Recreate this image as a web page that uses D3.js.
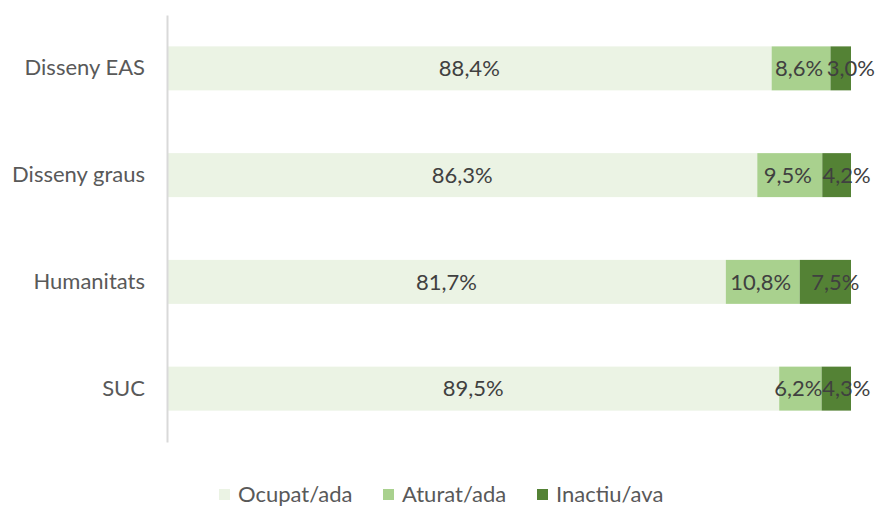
<!DOCTYPE html>
<html><head><meta charset="utf-8">
<script src="https://cdn.jsdelivr.net/npm/d3@7"></script>
<style>body{margin:0;background:#fff;} svg{display:block;font-family:Lato, "Open Sans", sans-serif;}</style>
</head><body>
<svg id="c" width="875" height="506"></svg>
<script>
const categories = ["Disseny EAS", "Disseny graus", "Humanitats", "SUC"];
const seriesNames = ["Ocupat/ada", "Aturat/ada", "Inactiu/ava"];
const ocupat = [88.4, 86.3, 81.7, 89.5];
const aturat = [8.6, 9.5, 10.8, 6.2];
const inactiu = [3.0, 4.2, 7.5, 4.3];
const colors = ["#ebf3e4", "#a9d18e", "#548235"];

const svg = d3.select("#c");
const mLeft = 167, mRight = 851, mTop = 15, mBottom = 442;
const rows = categories.map((c, i) => ({cat: c, "Ocupat/ada": ocupat[i], "Aturat/ada": aturat[i], "Inactiu/ava": inactiu[i]}));
const stack = d3.stack().keys(seriesNames).offset(d3.stackOffsetExpand);
const series = stack(rows);
const x = d3.scaleLinear().domain([0, 1]).range([mLeft, mRight]);
const y = d3.scaleBand().domain(categories).range([mTop, mBottom]).paddingInner(0.588).paddingOuter(0.294);

const fmt = v => v.toFixed(1).replace(".", ",") + "%";
const FS = 22;
const labelNudge = [0, -2, 10]; // Excel-style nudge of labels per series

series.forEach((s, si) => {
  const g = svg.append("g");
  g.selectAll("rect").data(s).enter().append("rect")
    .attr("x", d => x(d[0])).attr("width", d => x(d[1]) - x(d[0]))
    .attr("y", d => y(d.data.cat)).attr("height", y.bandwidth())
    .attr("fill", colors[si]);
});
series.forEach((s, si) => {
  svg.append("g").selectAll("text").data(s).enter().append("text")
    .attr("x", d => (x(d[0]) + x(d[1])) / 2 + labelNudge[si])
    .attr("y", d => y(d.data.cat) + y.bandwidth() / 2)
    .attr("dy", "0.35em").attr("text-anchor", "middle")
    .attr("font-size", FS).attr("fill", "#404040")
    .text(d => fmt(d.data[s.key]));
});

const yAxis = svg.append("g").attr("transform", `translate(${mLeft},0)`).call(d3.axisLeft(y).tickSize(0).tickPadding(22));
yAxis.select(".domain").attr("stroke", "#d9d9d9").attr("stroke-width", 2);
yAxis.selectAll("text").attr("font-size", FS).attr("fill", "#595959").attr("font-family", "Lato, sans-serif");

const legendX = [219, 383, 537];
const lg = svg.append("g");
seriesNames.forEach((n, i) => {
  lg.append("rect").attr("x", legendX[i]).attr("y", 489).attr("width", 11).attr("height", 11).attr("fill", colors[i]);
  lg.append("text").attr("x", legendX[i] + 19).attr("y", 494.5).attr("dy", "0.35em")
    .attr("font-size", FS).attr("fill", "#595959").text(n);
});
</script>
</body></html>
